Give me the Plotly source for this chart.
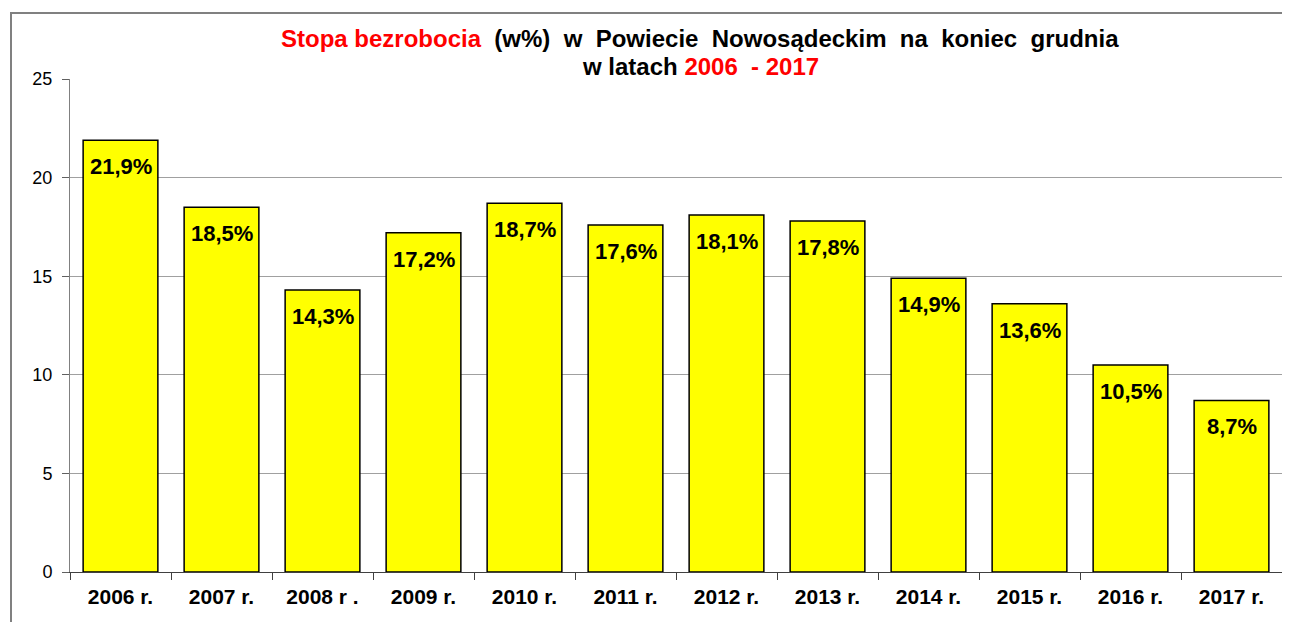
import plotly.graph_objects as go

categories = ["2006 r.", "2007 r.", "2008 r .", "2009 r.", "2010 r.", "2011 r.",
              "2012 r.", "2013 r.", "2014 r.", "2015 r.", "2016 r.", "2017 r."]
values = [21.9, 18.5, 14.3, 17.2, 18.7, 17.6, 18.1, 17.8, 14.9, 13.6, 10.5, 8.7]
labels = [f"{v:.1f}%".replace(".", ",") for v in values]
y_ticks = [0, 5, 10, 15, 20, 25]

FONT = "Liberation Sans, Arial, sans-serif"
# page has an 8px body margin, so the figure is drawn 8px smaller
W, H = 1282, 614
L, R, T, B = 62, 8, 71, 50
pw, ph = W - L - R, H - T - B

fig = go.Figure()
fig.add_trace(go.Bar(
    x=categories, y=values,
    marker=dict(color="#FFFF00", line=dict(color="#000000", width=1.5)),
    width=0.74, hoverinfo="skip",
))

for c, v, t in zip(categories, values, labels):
    fig.add_annotation(x=c, y=v, text=f"<b>{t}</b>", showarrow=False,
                       yanchor="top", yshift=-12,
                       font=dict(family=FONT, size=22, color="#000000"))

S = "&nbsp;"
title1 = (f"<b><span style='color:#FF0000'>Stopa bezrobocia</span> {S}(w%) {S}w {S}Powiecie "
          f"{S}Nowosądeckim {S}na {S}koniec {S}grudnia</b>")
title2 = f"<b>w latach <span style='color:#FF0000'>2006 {S}- 2017</span></b>"
cx = (692 - L) / pw
fig.add_annotation(text=title1, xref="paper", yref="paper", x=cx, y=1 + (T - 30.5) / ph,
                   xanchor="center", yanchor="middle", showarrow=False, borderpad=0,
                   font=dict(family=FONT, size=24, color="#000000"))
fig.add_annotation(text=title2, xref="paper", yref="paper", x=cx, y=1 + (T - 58.5) / ph,
                   xanchor="center", yanchor="middle", showarrow=False, borderpad=0,
                   font=dict(family=FONT, size=24, color="#000000"))

fig.update_layout(
    width=W, height=H,
    margin=dict(l=L, r=R, t=T, b=B, autoexpand=False),
    paper_bgcolor="white", plot_bgcolor="white",
    showlegend=False,
    font=dict(family=FONT, color="#000000"),
)
fig.update_xaxes(
    tickson="boundaries", ticks="outside", ticklen=7, tickcolor="#404040",
    showline=True, linecolor="#404040", linewidth=1,
    tickfont=dict(family=FONT, size=21, color="#000000"),
    tickprefix="<b>", ticksuffix="</b>", ticklabelstandoff=6,
    showgrid=False, fixedrange=True, automargin=False,
)
fig.update_yaxes(
    range=[0, 25], tickvals=y_ticks, ticks="outside", ticklen=7, tickcolor="#606060",
    showline=True, linecolor="#808080", linewidth=1,
    showgrid=True, gridcolor="#A0A0A0", gridwidth=1,
    tickfont=dict(family=FONT, size=18, color="#000000"), ticklabelstandoff=6,
    zeroline=False, fixedrange=True, automargin=False,
)
# outer frame of the chart area
fig.add_shape(type="rect", xref="paper", yref="paper",
              x0=(3 - L) / pw, x1=(W + 5 - L) / pw,
              y0=-(H + 5 - (H - B)) / ph, y1=1 + (T - 5) / ph,
              line=dict(color="#808080", width=2), layer="below")

fig.write_html("out.html")
